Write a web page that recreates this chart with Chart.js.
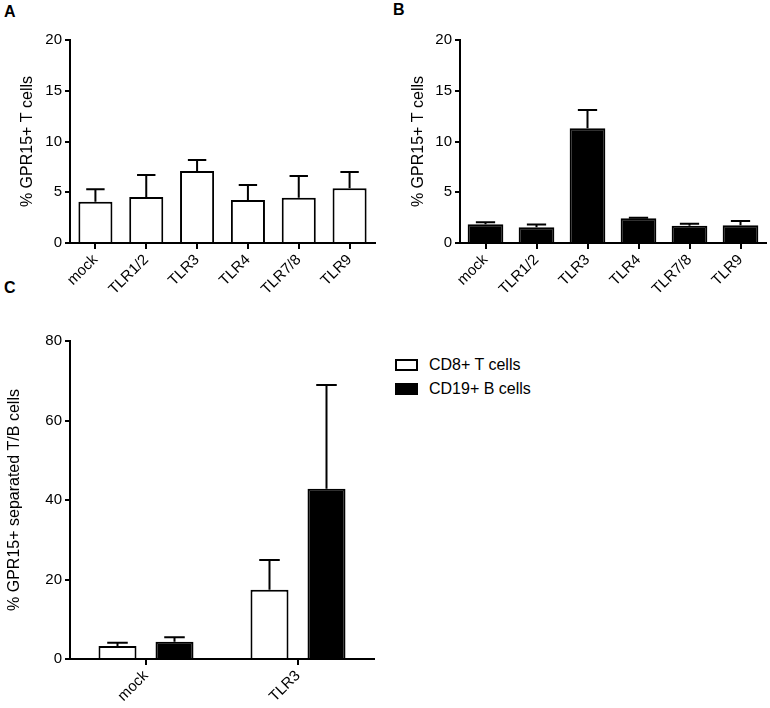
<!DOCTYPE html>
<html lang="en">
<head>
<meta charset="UTF-8">
<title>GPR15+ cells after TLR stimulation</title>
<script src="https://cdn.jsdelivr.net/npm/chart.js"></script>
<style>
    body {
        margin: 0;
        background: #fff;
        font-family: 'Liberation Sans', Arial, sans-serif;
        color: #000;
    }

    #page {
        position: relative;
        width: 770px;
        height: 708px;
        overflow: hidden;
    }

    canvas {
        position: absolute;
    }

    #chartA { left: 0; top: 0; }
    #chartB { left: 385px; top: 0; }
    #chartC { left: 0; top: 300px; }

    .panel-letter {
        position: absolute;
        font-weight: bold;
        font-size: 16px;
        line-height: 16px;
    }

    .legend {
        position: absolute;
        left: 395px;
        top: 353px;
        font-size: 16px;
    }

    .legend-row {
        display: flex;
        align-items: center;
        height: 24px;
    }

    .swatch {
        width: 23px;
        height: 12px;
        box-sizing: border-box;
        border: 2px solid #000;
        margin-right: 11px;
    }
</style>
</head>
<body>
<div id="page">
    <div class="panel-letter" style="left:4px; top:4px;">A</div>
    <div class="panel-letter" style="left:393px; top:2px;">B</div>
    <div class="panel-letter" style="left:4px; top:280px;">C</div>

    <canvas id="chartA" width="385" height="310"></canvas>
    <canvas id="chartB" width="385" height="310"></canvas>
    <canvas id="chartC" width="385" height="408"></canvas>

    <div class="legend">
        <div class="legend-row"><div class="swatch" style="background:#fff"></div>CD8+ T cells</div>
        <div class="legend-row"><div class="swatch" style="background:#000"></div>CD19+ B cells</div>
    </div>
</div>

<script>
    // panels A and B: categories and values (mean, + error)
    const tlrLabels = ['mock', 'TLR1/2', 'TLR3', 'TLR4', 'TLR7/8', 'TLR9'];
    const panelAValues = [4.07, 4.53, 7.09, 4.24, 4.46, 5.4];
    const panelAErrors = [1.22, 2.17, 1.09, 1.47, 2.14, 1.6];
    const panelBValues = [1.85, 1.55, 11.3, 2.45, 1.7, 1.75];
    const panelBErrors = [0.2, 0.28, 1.8, 0.05, 0.2, 0.42];

    // panel C
    const sepLabels = ['mock', 'TLR3'];
    const cd8Values = [3.3, 17.4];
    const cd8Errors = [0.8, 7.5];
    const cd19Values = [4.35, 42.8];
    const cd19Errors = [1.15, 26.1];

    const tickFont = { family: "'Liberation Sans', Arial, sans-serif", size: 15 };
    const titleFont = { family: "'Liberation Sans', Arial, sans-serif", size: 16 };

    // draws only the upper half of the error bar, with a cap
    const errorBarPlugin = {
        id: 'errorBars',
        afterDatasetsDraw(chart) {
            const ctx = chart.ctx;
            const yScale = chart.scales.y;
            chart.data.datasets.forEach((ds, i) => {
                if (!ds.errors) return;
                const meta = chart.getDatasetMeta(i);
                meta.data.forEach((bar, j) => {
                    const top = yScale.getPixelForValue(ds.data[j] + ds.errors[j]);
                    const half = bar.width * 0.27;
                    ctx.save();
                    ctx.strokeStyle = '#000';
                    ctx.lineWidth = 2;
                    ctx.beginPath();
                    ctx.moveTo(bar.x, bar.y);
                    ctx.lineTo(bar.x, top);
                    ctx.moveTo(bar.x - half, top);
                    ctx.lineTo(bar.x + half, top);
                    ctx.stroke();
                    ctx.restore();
                });
            });
        }
    };

    function makeOptions(cfg) {
        return {
            responsive: false,
            animation: false,
            layout: { padding: { left: 0, right: cfg.padRight, top: cfg.padTop, bottom: 0 } },
            plugins: {
                legend: { display: false },
                tooltip: { enabled: false }
            },
            scales: {
                x: {
                    offset: true,
                    grid: {
                        display: true,
                        offset: false,
                        drawOnChartArea: false,
                        drawTicks: true,
                        tickLength: 6,
                        color: '#000',
                        lineWidth: 2
                    },
                    border: { display: true, color: '#000', width: 2 },
                    ticks: {
                        color: '#000',
                        font: tickFont,
                        minRotation: 45,
                        maxRotation: 45,
                        autoSkip: false,
                        padding: 2
                    },
                    afterFit(scale) { scale.height = cfg.xHeight; }
                },
                y: {
                    min: 0,
                    max: cfg.yMax,
                    grid: {
                        display: true,
                        drawOnChartArea: false,
                        drawTicks: true,
                        tickLength: 5,
                        color: '#000',
                        lineWidth: 2
                    },
                    border: { display: true, color: '#000', width: 2 },
                    ticks: {
                        stepSize: cfg.step,
                        color: '#000',
                        font: tickFont,
                        padding: 3
                    },
                    title: {
                        display: true,
                        text: cfg.yTitle,
                        color: '#000',
                        font: titleFont,
                        padding: { top: cfg.titlePad, bottom: 0 }
                    },
                    afterFit(scale) { scale.width = cfg.yWidth; }
                }
            }
        };
    }

    function barDataset(label, values, errors, fill, barPct, catPct) {
        return {
            label: label,
            data: values,
            errors: errors,
            backgroundColor: fill,
            borderColor: '#000',
            borderWidth: 2,
            borderSkipped: 'start',
            barPercentage: barPct,
            categoryPercentage: catPct
        };
    }

    new Chart(document.getElementById('chartA'), {
        type: 'bar',
        data: {
            labels: tlrLabels,
            datasets: [barDataset('A', panelAValues, panelAErrors, '#fff', 0.67, 1)]
        },
        options: makeOptions({
            padTop: 40, padRight: 10, xHeight: 67, yWidth: 70,
            yMax: 20, step: 5, titlePad: 18, yTitle: '% GPR15+ T cells'
        }),
        plugins: [errorBarPlugin]
    });

    new Chart(document.getElementById('chartB'), {
        type: 'bar',
        data: {
            labels: tlrLabels,
            datasets: [barDataset('B', panelBValues, panelBErrors, '#000', 0.7, 1)]
        },
        options: makeOptions({
            padTop: 40, padRight: 4, xHeight: 67, yWidth: 75,
            yMax: 20, step: 5, titlePad: 24, yTitle: '% GPR15+ T cells'
        }),
        plugins: [errorBarPlugin]
    });

    new Chart(document.getElementById('chartC'), {
        type: 'bar',
        data: {
            labels: sepLabels,
            datasets: [
                barDataset('CD8+ T cells', cd8Values, cd8Errors, '#fff', 0.667, 0.75),
                barDataset('CD19+ B cells', cd19Values, cd19Errors, '#000', 0.667, 0.75)
            ]
        },
        options: makeOptions({
            padTop: 41, padRight: 11, xHeight: 49, yWidth: 70,
            yMax: 80, step: 20, titlePad: 5, yTitle: '% GPR15+ separated T/B cells'
        }),
        plugins: [errorBarPlugin]
    });
</script>
</body>
</html>
